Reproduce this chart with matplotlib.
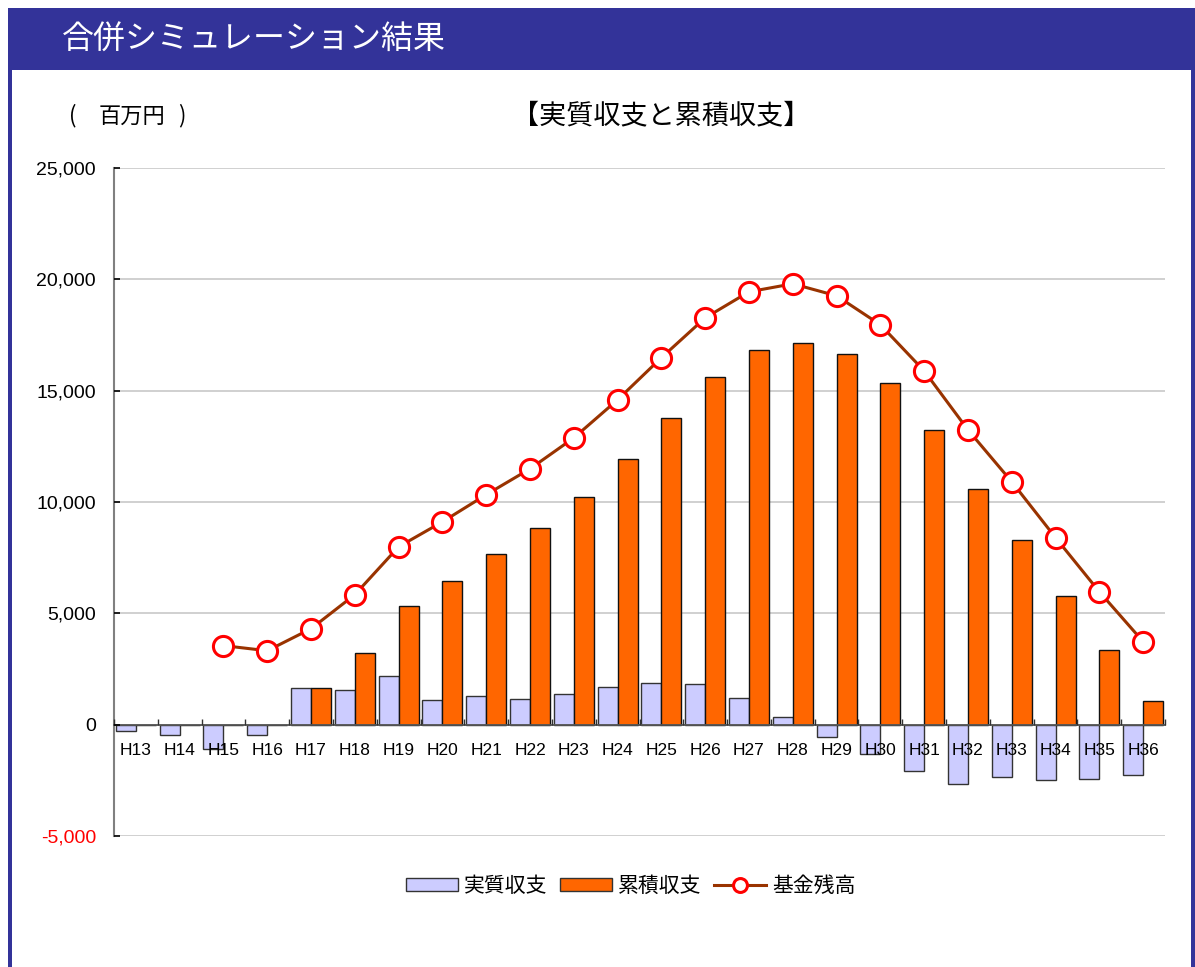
import numpy as np
import matplotlib
matplotlib.use("Agg")
import matplotlib.pyplot as plt
from matplotlib.patches import Rectangle, Patch
from matplotlib.lines import Line2D
from matplotlib.ticker import FuncFormatter, FixedLocator

# data (百万円)
years = ['H13', 'H14', 'H15', 'H16', 'H17', 'H18', 'H19', 'H20', 'H21', 'H22', 'H23', 'H24',
         'H25', 'H26', 'H27', 'H28', 'H29', 'H30', 'H31', 'H32', 'H33', 'H34', 'H35', 'H36']
jisshitsu = [-300, -480, -1080, -480, 1650, 1570, 2170, 1120, 1270, 1170, 1390, 1700,
             1890, 1840, 1210, 340, -540, -1330, -2080, -2650, -2370, -2490, -2450, -2280]
ruiseki = [0, 0, 0, 0, 1650, 3220, 5340, 6460, 7680, 8840, 10240, 11940,
           13780, 15620, 16830, 17150, 16660, 15350, 13240, 10600, 8300, 5790, 3350, 1080]
kikin = [np.nan, np.nan, 3550, 3320, 4310, 5840, 7990, 9110, 10330, 11490, 12880, 14590,
         16480, 18270, 19440, 19800, 19260, 17960, 15890, 13240, 10910, 8400, 5970, 3730]

CJK = ['Noto Sans CJK JP', 'DejaVu Sans']
NUM = ['Liberation Sans', 'DejaVu Sans']
W, H = 1195, 967

fig = plt.figure(figsize=(W / 100, H / 100), dpi=100)
fig.patch.set_facecolor('white')

# frame and header band
navy = '#333399'
fig.patches.append(Rectangle((8 / W, 1 - 70 / H), 1 - 8 / W, 62 / H, transform=fig.transFigure,
                             facecolor=navy, edgecolor='none', zorder=0))
fig.patches.append(Rectangle((8 / W, 0), 3.5 / W, 1 - 70 / H, transform=fig.transFigure,
                             facecolor=navy, edgecolor='none', zorder=0))
fig.patches.append(Rectangle((1191 / W, 0), 4 / W, 1 - 70 / H, transform=fig.transFigure,
                             facecolor=navy, edgecolor='none', zorder=0))
fig.text(62 / W, 1 - 40 / H, '合併シミュレーション結果', color='white', fontsize=23,
         family=CJK, va='center', ha='left')

# unit label, parens spaced out like the original
fig.text(73 / W, 1 - 116 / H, '(', fontsize=16, family=CJK, va='center', ha='center')
fig.text(132 / W, 1 - 116 / H, '百万円', fontsize=16, family=CJK, va='center', ha='center')
fig.text(182 / W, 1 - 116 / H, ')', fontsize=16, family=CJK, va='center', ha='center')
fig.text(661 / W, 1 - 116 / H, '【実質収支と累積収支】', fontsize=19.5, family=CJK,
         va='center', ha='center')

ax = fig.add_axes([114 / W, 1 - 836 / H, (1165 - 114) / W, (836 - 168) / H])
ax.set_axisbelow(False)

x = np.arange(len(years))
bw = 0.457
for v in range(-5000, 25001, 5000):
    if v != 0:
        ax.axhline(v, color='#c8c8c8', lw=1.2, zorder=0.5)

ax.bar(x - bw / 2, jisshitsu, width=bw, color='#ccccff', edgecolor='#333333', lw=1, zorder=2)
ax.bar(x + bw / 2, ruiseki, width=bw, color='#ff6600', edgecolor='#111111', lw=1, zorder=2)
ax.plot(x, kikin, color='#993300', lw=2.2, marker='o', ms=14.5, mfc='white', mec='#ff0000',
        mew=2.2, zorder=3)

ax.set_xlim(-0.5, len(years) - 0.5)
ax.set_ylim(-5000, 25000)
ax.set_yticks(range(-5000, 25001, 5000))
ax.yaxis.set_major_formatter(FuncFormatter(lambda v, p: f'{v:,.0f}'))
ax.set_xticks(x)
ax.set_xticklabels(years)
ax.xaxis.set_minor_locator(FixedLocator(np.arange(-0.5, len(years), 1.0)))

for s in ['top', 'right']:
    ax.spines[s].set_visible(False)
ax.spines['left'].set_color('#808080')
ax.spines['left'].set_linewidth(1.5)
ax.spines['bottom'].set_position(('data', 0))
ax.spines['bottom'].set_color('#555555')
ax.spines['bottom'].set_linewidth(1.3)

ax.tick_params(axis='y', direction='in', length=4.5, width=1.2, color='black', pad=13,
               labelsize=14)
ax.tick_params(axis='x', which='major', length=0, pad=13, labelsize=12.5)
ax.tick_params(axis='x', which='minor', direction='in', length=4.5, width=1, color='#333333')
for lab in ax.get_yticklabels() + ax.get_xticklabels():
    lab.set_family(NUM)
ax.get_yticklabels()[0].set_color('red')

handles = [
    Patch(facecolor='#ccccff', edgecolor='#333333', label='実質収支'),
    Patch(facecolor='#ff6600', edgecolor='#333333', label='累積収支'),
    Line2D([], [], color='#993300', lw=2.2, marker='o', ms=10, mfc='white', mec='#ff0000',
           mew=2.2, label='基金残高'),
]
fig.legend(handles=handles, loc='center', bbox_to_anchor=(631 / W, 1 - 886 / H), ncol=3,
           frameon=False, prop={'family': CJK, 'size': 15}, handlelength=2.5, handleheight=0.6,
           handletextpad=0.3, columnspacing=0.6)

fig.savefig('out.png', dpi=100, facecolor='white')
